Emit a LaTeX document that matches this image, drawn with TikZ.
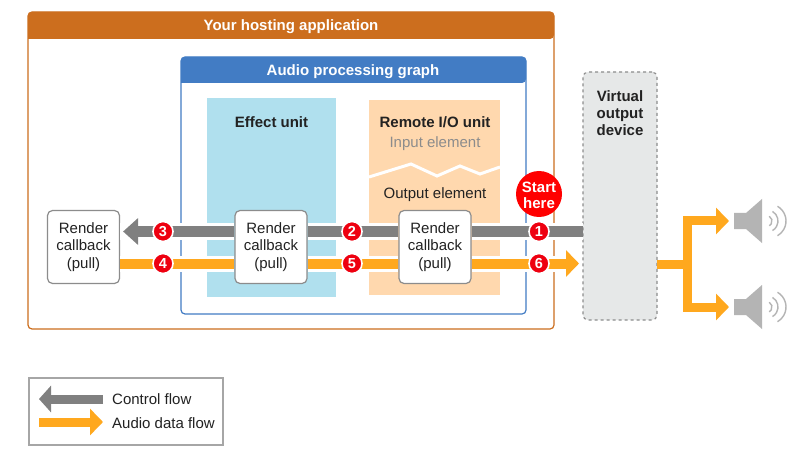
\documentclass[tikz,border=0pt]{standalone}
\usepackage{fontspec}
\setmainfont{Liberation Sans}
\setsansfont{Liberation Sans}
\usetikzlibrary{arrows.meta,positioning,calc}
\definecolor{hostedge}{RGB}{204,110,30}
\definecolor{graphedge}{RGB}{66,124,196}
\definecolor{effectfill}{RGB}{176,224,238}
\definecolor{remotefill}{RGB}{255,216,174}
\definecolor{devfill}{RGB}{230,232,232}
\definecolor{devedge}{RGB}{140,140,140}
\definecolor{cbedge}{RGB}{140,140,140}
\definecolor{ctlgray}{RGB}{128,128,128}
\definecolor{dataorange}{RGB}{255,168,30}
\definecolor{spkgray}{RGB}{180,180,180}
\definecolor{badgered}{RGB}{238,0,16}
\definecolor{inktext}{RGB}{34,34,34}
\tikzset{
  txt/.style={font=\fontsize{15}{17.5}\selectfont, text=inktext, align=center, inner sep=0pt},
  boldtxt/.style={txt, font=\fontsize{15}{17.2}\selectfont\bfseries},
  headtxt/.style={boldtxt, text=white},
  cbbox/.style={
    txt, draw=cbedge, fill=white, line width=1.2pt, rounded corners=5pt,
    minimum width=72pt, minimum height=73pt
  },
  panel/.style={minimum width=#1, inner sep=0pt, outer sep=0pt},
  frame/.style={fill=white, line width=1.2pt, rounded corners=4pt, inner sep=0pt, outer sep=0pt},
  halo/.style={draw=white, line width=16pt},
  ctlline/.style={draw=ctlgray, line width=10pt},
  dataline/.style={draw=dataorange, line width=10pt},
  ctlarr/.style={ctlline, -{Triangle[length=15pt,width=26pt]}},
  dataarr/.style={dataline, -{Triangle[length=13pt,width=26pt]}},
  badge/.style={
    circle, fill=badgered, draw=white, line width=1.6pt, inner sep=0pt, minimum size=20pt,
    text=white, font=\fontsize{14.5}{14.5}\selectfont\bfseries
  },
  spkarc/.style={draw=spkgray, line width=1.4pt}
}
\begin{document}
\begin{tikzpicture}[x=1pt,y=-1pt]
  \useasboundingbox (0,0) rectangle (802,454);
  \fill[white] (0,0) rectangle (802,454);
  % host application
  \node[frame, draw=hostedge, minimum width=526pt, minimum height=317pt] (host) at (291,170.5) {};
  \fill[hostedge] (28,39) [rounded corners=4pt] -- (28,12) -- (554,12) -- (554,39) [sharp corners] -- cycle;
  \node[headtxt] (hosttitle) at (291,27) {Your hosting application};
  % processing graph
  \node[frame, draw=graphedge, minimum width=345pt, minimum height=257pt] (graph) at (353.5,185.5) {};
  \fill[graphedge] (181,83) [rounded corners=4pt] -- (181,57) -- (526,57) -- (526,83) [sharp corners] -- cycle;
  \node[headtxt] (graphtitle) at (353,72) {Audio processing graph};
  % units
  \node[panel=129pt, fill=effectfill, minimum height=199pt] (effect) at (271.5,197.5) {};
  \node[panel=131pt, fill=remotefill, minimum height=195pt] (remote) at (434.5,197.5) {};
  \draw[white, line width=3pt] (369,177) -- (411,164) -- (437,176) -- (460,166) -- (480,174) -- (500,167);
  \node[boldtxt] (effecttitle) at (271.5,122) {Effect unit};
  \node[boldtxt] (remotetitle) at (435,122) {Remote I/O unit};
  \node[txt, text=black!45] (inputel) at (435,144) {Input element};
  \node[txt] (outputel) at (435,194.5) {Output element};
  % device
  \node[draw=devedge, fill=devfill, dashed, line width=1.1pt, rounded corners=5pt,
    minimum width=74pt, minimum height=248pt, inner sep=0pt, outer sep=0pt] (device) at (620,196) {};
  \node[boldtxt] (devtitle) at (620,113) {Virtual\\output\\device};
  % render callbacks
  \node[cbbox] (cba) at (83.5,247) {Render\\callback\\(pull)};
  \node[cbbox] (cbb) at (271,247) {Render\\callback\\(pull)};
  \node[cbbox] (cbc) at (435,247) {Render\\callback\\(pull)};
  % flows
  \coordinate (ctlin) at (device.west |- 0,231.5);
  \coordinate (datatip) at (579,263.5);
  \foreach \p/\q in {cbb/cba,cbc/cbb} {
    \draw[halo] ([yshift=15.5pt]\p.west) -- ([yshift=15.5pt]\q.east);
    \draw[halo] ([yshift=-16.5pt]\q.east) -- ([yshift=-16.5pt]\p.west);
  }
  \draw[halo] (ctlin) -- ([yshift=15.5pt]cbc.east);
  \draw[halo, shorten >=14pt] ([yshift=-16.5pt]cbc.east) -- (datatip);
  \draw[ctlline] (ctlin) -- ([yshift=15.5pt]cbc.east);
  \draw[ctlline] ([yshift=15.5pt]cbc.west) -- ([yshift=15.5pt]cbb.east);
  \draw[ctlarr, shorten >=3pt] ([yshift=15.5pt]cbb.west) -- ([yshift=15.5pt]cba.east);
  \draw[dataline] ([yshift=-16.5pt]cba.east) -- ([yshift=-16.5pt]cbb.west);
  \draw[dataline] ([yshift=-16.5pt]cbb.east) -- ([yshift=-16.5pt]cbc.west);
  \draw[dataarr] ([yshift=-16.5pt]cbc.east) -- (datatip);
  % badges
  \node[circle, fill=red, inner sep=0pt, minimum size=46pt] (start) at (539,194) {};
  \node[headtxt, font=\fontsize{15}{16.5}\selectfont\bfseries] (starttxt) at (539,195.5) {Start\\here};
  \foreach \n/\x/\y in {1/539/231.5,2/352/231.5,3/163/231.5,4/163/263.5,5/352/263.5,6/539/263.5}
    \node[badge] (b\n) at (\x,\y) {\n};
  % output to speakers
  \coordinate (split) at (687.5,264.5);
  \coordinate (spka) at (734,221);
  \coordinate (spkb) at (734,307);
  \draw[dataline, line width=9pt] (device.east |- split) -- (split);
  \draw[dataarr, line width=9pt, shorten >=5pt] (split) |- (spka);
  \draw[dataarr, line width=9pt, shorten >=5pt] (split) |- (spkb);
  \foreach \s in {spka,spkb} {
    \begin{scope}[shift={(\s)}]
      \fill[spkgray] (0,-8) -- (12,-8) -- (28,-22) -- (28,22) -- (12,8) -- (0,8) -- cycle;
      \draw[spkarc] (35,0) +(-60:17) arc[start angle=-60,end angle=60,radius=17];
      \draw[spkarc] (33,0) +(-60:11) arc[start angle=-60,end angle=60,radius=11];
      \draw[spkarc] (32.5,0) +(-60:5.5) arc[start angle=-60,end angle=60,radius=5.5];
    \end{scope}
  }
  % legend
  \node[draw=black!35, line width=1.1pt, minimum width=194pt, minimum height=67pt,
    inner sep=0pt, outer sep=0pt] (legend) at (126,411.5) {};
  \node[txt, anchor=west] (legctl) at (112,399.5) {Control flow};
  \node[txt, anchor=west] (legdata) at (112,423.5) {Audio data flow};
  \coordinate (ctlfrom) at (103,399);
  \coordinate (ctlto) at (39,399);
  \coordinate (datafrom) at (39,422);
  \coordinate (datato) at (103,422);
  \draw[ctlarr, line width=9pt, -{Triangle[length=12pt,width=26pt]}] (ctlfrom) -- (ctlto);
  \draw[dataarr, line width=9pt] (datafrom) -- (datato);
\end{tikzpicture}
\end{document}
